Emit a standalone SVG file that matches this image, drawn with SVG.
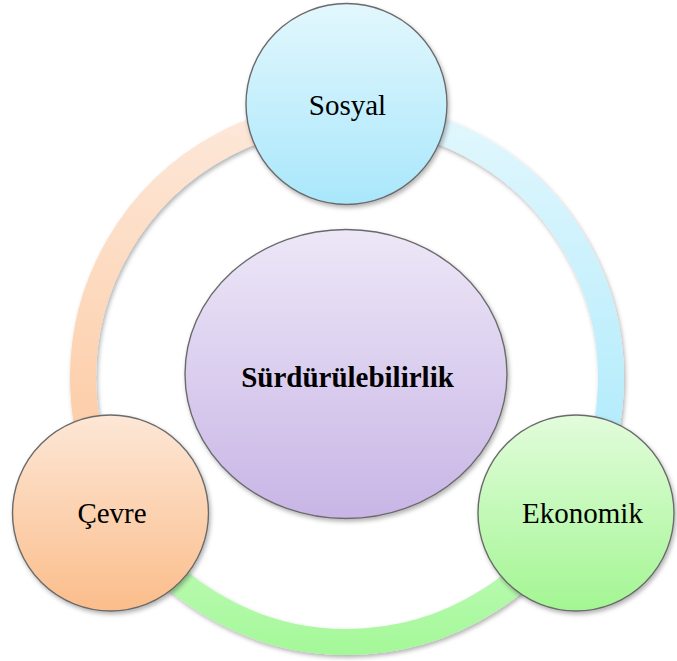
<svg xmlns="http://www.w3.org/2000/svg" width="677" height="661" viewBox="0 0 677 661">
  <style>
    .node { stroke: #6b6b6b; stroke-width: 1.4; filter: url(#shadow); }
    .ring { fill: none; stroke-width: 26; stroke-linecap: butt; filter: url(#shadow); }
    .label { font-size: 29px; fill: #000; text-anchor: middle; }
    .title { font-weight: bold; }
  </style>
  <defs>
    <filter id="shadow" x="-20%" y="-20%" width="140%" height="140%">
      <feDropShadow dx="1.5" dy="2.5" stdDeviation="2" flood-color="#000" flood-opacity="0.3"/>
    </filter>
    <linearGradient id="gBlue" x1="0" y1="0" x2="0" y2="1">
      <stop offset="0" stop-color="#e2f7fd"/>
      <stop offset="1" stop-color="#a9e7fb"/>
    </linearGradient>
    <linearGradient id="gOrange" x1="0" y1="0" x2="0" y2="1">
      <stop offset="0" stop-color="#fde7d6"/>
      <stop offset="1" stop-color="#fbbd8b"/>
    </linearGradient>
    <linearGradient id="gGreen" x1="0" y1="0" x2="0" y2="1">
      <stop offset="0" stop-color="#e2fcdb"/>
      <stop offset="1" stop-color="#a3f693"/>
    </linearGradient>
    <linearGradient id="gPurple" x1="0" y1="0" x2="0" y2="1">
      <stop offset="0" stop-color="#ede7f7"/>
      <stop offset="1" stop-color="#c8b5e6"/>
    </linearGradient>
    <linearGradient id="rBlue" gradientUnits="userSpaceOnUse" x1="0" y1="110" x2="0" y2="460">
      <stop offset="0" stop-color="#e2f7fd"/>
      <stop offset="1" stop-color="#b0ebfc"/>
    </linearGradient>
    <linearGradient id="rOrange" gradientUnits="userSpaceOnUse" x1="0" y1="110" x2="0" y2="460">
      <stop offset="0" stop-color="#fde8da"/>
      <stop offset="1" stop-color="#fdcba3"/>
    </linearGradient>
    <linearGradient id="rGreen" gradientUnits="userSpaceOnUse" x1="0" y1="520" x2="0" y2="655">
      <stop offset="0" stop-color="#c4fbbd"/>
      <stop offset="1" stop-color="#a4f898"/>
    </linearGradient>
  </defs>

  <!-- ring segments linking the three pillars -->
  <g id="connectors">
    <path class="ring" stroke="url(#rBlue)" d="M347 114 A264 264 0 0 1 575.6 510"/>
    <path class="ring" stroke="url(#rGreen)" d="M575.6 510 A264 264 0 0 1 118.4 510"/>
    <path class="ring" stroke="url(#rOrange)" d="M118.4 510 A264 264 0 0 1 347 114"/>
  </g>

  <g font-family="'Liberation Serif', Tinos, 'Times New Roman', 'DejaVu Serif', serif">
    <g id="center">
      <ellipse class="node" cx="346" cy="374" rx="161" ry="144.5" fill="url(#gPurple)"/>
      <text class="label title" x="347.5" y="387">Sürdürülebilirlik</text>
    </g>

    <g id="sosyal">
      <circle class="node" cx="346.5" cy="104" r="100.5" fill="url(#gBlue)"/>
      <text class="label" x="347.5" y="115">Sosyal</text>
    </g>

    <g id="ekonomik">
      <circle class="node" cx="576" cy="513" r="98" fill="url(#gGreen)"/>
      <text class="label" x="582.5" y="523">Ekonomik</text>
    </g>

    <g id="cevre">
      <circle class="node" cx="110.5" cy="513" r="98" fill="url(#gOrange)"/>
      <text class="label" x="112" y="523">Çevre</text>
    </g>
  </g>
</svg>
